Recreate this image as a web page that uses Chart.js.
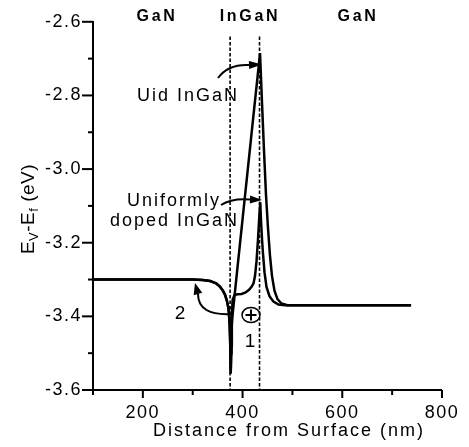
<!DOCTYPE html>
<html><head><meta charset="utf-8">
<script src="https://cdn.jsdelivr.net/npm/chart.js@4.4.1/dist/chart.umd.min.js"></script>
<style>html,body{margin:0;padding:0;background:#fff}canvas{display:block}</style>
</head><body>
<canvas id="c" width="469" height="447"></canvas>
<script>
// ---- data (nm, eV) ----
const leftX = [100, 300, 320, 335, 347, 355, 360.5, 365, 368.5, 371, 372.5, 374, 375, 376, 376.5];
const leftY = [-3.30, -3.30, -3.301, -3.304, -3.31, -3.32, -3.33, -3.342, -3.357, -3.373, -3.389, -3.42, -3.46, -3.52, -3.555];
const uidX = [377.2, 378, 380, 390, 400, 410, 420, 430, 435, 439, 443, 447, 451, 455, 459, 464, 470, 478, 490, 738];
const uidY = [-3.50, -3.43, -3.395, -3.265, -3.136, -3.007, -2.878, -2.75, -2.685, -2.82, -2.95, -3.07, -3.16, -3.235, -3.29, -3.33, -3.353, -3.365, -3.37, -3.37];
const dopedX = [377.5, 378.5, 380, 384, 390, 398, 406, 413, 418, 422, 425, 428, 431, 433.5, 435.5, 437, 439, 441, 444, 448, 454, 462, 472, 485, 738];
const dopedY = [-3.48, -3.40, -3.355, -3.342, -3.34, -3.339, -3.335, -3.328, -3.32, -3.31, -3.29, -3.25, -3.19, -3.13, -3.09, -3.14, -3.19, -3.23, -3.28, -3.32, -3.345, -3.36, -3.368, -3.37, -3.37];
const interfaceX = [375, 434];
const interfaceY = [-2.64, -3.6];
const xRange = [100, 800];
const yRange = [-3.6, -2.6];
const xMajorTicks = [200, 400, 600, 800];
const xMinorTicks = [100, 300, 500, 700];
const yMajorTicks = [-3.6, -3.4, -3.2, -3.0, -2.8, -2.6];
const yMinorTicks = [-3.5, -3.3, -3.1, -2.9, -2.7];

function pts(xs, ys) { return xs.map((x, i) => ({x: x, y: ys[i]})); }
const uidCurve = pts(leftX.concat(uidX), leftY.concat(uidY));
const dopedCurve = pts(leftX.concat(dopedX), leftY.concat(dopedY));

const FONT = '"Liberation Sans", Arial, sans-serif';

const lineDs = (data) => ({data, showLine: true, borderColor: '#000', borderWidth: 2.5, pointRadius: 0, fill: false, tension: 0});
const dashDs = (xv) => ({data: interfaceY.map(v => ({x: xv, y: v})), showLine: true, borderColor: '#000', borderWidth: 1.6, borderDash: [3.5, 2], pointRadius: 0, fill: false});

const notes = [
  {t: 'GaN', x: 157, y: 21, f: 'bold 16px ' + FONT, ls: 2.7, a: 'center'},
  {t: 'InGaN', x: 250, y: 21, f: 'bold 16px ' + FONT, ls: 2.7, a: 'center'},
  {t: 'GaN', x: 358, y: 21, f: 'bold 16px ' + FONT, ls: 2.7, a: 'center'},
  {t: 'Uid InGaN', x: 137, y: 101, f: '18px ' + FONT, ls: 2, a: 'left'},
  {t: 'Uniformly', x: 127, y: 206, f: '18px ' + FONT, ls: 2, a: 'left'},
  {t: 'doped InGaN', x: 110, y: 226, f: '18px ' + FONT, ls: 2, a: 'left'},
  {t: '2', x: 180, y: 318.5, f: '19px ' + FONT, ls: 0, a: 'center'},
  {t: '1', x: 250, y: 346.5, f: '19px ' + FONT, ls: 0, a: 'center'},
  {t: 'Distance from Surface (nm)', x: 289, y: 436, f: '18px ' + FONT, ls: 2, a: 'center'}
];

function arrow(ctx, sx, sy, cx, cy, ex, ey, tx, ty, hw) {
  ctx.beginPath(); ctx.moveTo(sx, sy); ctx.quadraticCurveTo(cx, cy, ex, ey); ctx.stroke();
  const ang = Math.atan2(ty - ey, tx - ex);
  const nx = -Math.sin(ang) * hw, ny = Math.cos(ang) * hw;
  ctx.beginPath(); ctx.moveTo(tx, ty); ctx.lineTo(ex + nx, ey + ny); ctx.lineTo(ex - nx, ey - ny); ctx.closePath(); ctx.fill();
}

const deco = {
  id: 'deco',
  beforeDraw(chart) { chart.ctx.letterSpacing = '1.5px'; },
  afterDraw(chart) {
    const ctx = chart.ctx, xs = chart.scales.x, ys = chart.scales.y, ca = chart.chartArea;
    ctx.save();
    ctx.letterSpacing = '0px';
    ctx.strokeStyle = '#000'; ctx.fillStyle = '#000'; ctx.lineWidth = 2;
    // tick marks
    const tick = (x1, y1, x2, y2) => { ctx.beginPath(); ctx.moveTo(x1, y1); ctx.lineTo(x2, y2); ctx.stroke(); };
    yMajorTicks.forEach(v => { const p = ys.getPixelForValue(v); tick(ca.left - 11, p, ca.left, p); });
    yMinorTicks.forEach(v => { const p = ys.getPixelForValue(v); tick(ca.left - 5, p, ca.left, p); });
    xMajorTicks.forEach(v => { const p = xs.getPixelForValue(v); tick(p, ca.bottom, p, ca.bottom + 8); });
    xMinorTicks.forEach(v => { const p = xs.getPixelForValue(v); tick(p, ca.bottom - 1, p, ca.bottom + 5); });
    // texts
    notes.forEach(n => {
      ctx.font = n.f; ctx.letterSpacing = n.ls + 'px'; ctx.textAlign = n.a; ctx.textBaseline = 'alphabetic';
      ctx.fillText(n.t, n.x, n.y);
    });
    // y title with subscripts
    ctx.save();
    ctx.translate(34, 209); ctx.rotate(-Math.PI / 2);
    ctx.letterSpacing = '0.5px'; ctx.textAlign = 'left';
    const big = '19px ' + FONT, small = '13px ' + FONT;
    const parts = [['E', big, 0], ['V', small, 4], ['-E', big, 0], ['f', small, 4], [' (eV)', big, 0]];
    let w = 0;
    parts.forEach(p => { ctx.font = p[1]; w += ctx.measureText(p[0]).width; });
    let cx = -w / 2;
    parts.forEach(p => { ctx.font = p[1]; ctx.fillText(p[0], cx, p[2]); cx += ctx.measureText(p[0]).width; });
    ctx.restore();
    // arrows
    ctx.lineWidth = 2;
    arrow(ctx, 218, 78, 228, 64, 249, 65, 262, 64.5, 4);
    arrow(ctx, 221, 205, 232, 198, 250, 199.5, 262, 200, 4);
    arrow(ctx, 232, 314, 198, 316, 198, 294, 195, 283, 4.5);
    // circled plus
    ctx.lineWidth = 1.5;
    ctx.beginPath(); ctx.ellipse(251, 315, 9, 7.5, 0, 0, Math.PI * 2); ctx.stroke();
    ctx.lineWidth = 2;
    tick(245.5, 315, 256.5, 315); tick(251, 309.5, 251, 320.5);
    ctx.restore();
  }
};

new Chart(document.getElementById('c'), {
  type: 'scatter',
  data: {datasets: [lineDs(uidCurve), lineDs(dopedCurve), dashDs(interfaceX[0]), dashDs(interfaceX[1])]},
  options: {
    responsive: false, animation: false, devicePixelRatio: 1,
    layout: {padding: {top: 13, right: 21, left: 0, bottom: 0}},
    plugins: {legend: {display: false}, tooltip: {enabled: false}},
    scales: {
      x: {
        type: 'linear', min: xRange[0], max: xRange[1],
        afterBuildTicks: (s) => { s.ticks = xMajorTicks.map(v => ({value: v})); },
        afterFit: (s) => { s.height = 57; },
        grid: {display: false, drawTicks: false},
        border: {display: true, color: '#000', width: 2},
        ticks: {color: '#000', font: {family: FONT, size: 18}, padding: 12, maxRotation: 0, autoSkip: false}
      },
      y: {
        type: 'linear', min: yRange[0], max: yRange[1],
        afterBuildTicks: (s) => { s.ticks = yMajorTicks.map(v => ({value: v})); },
        afterFit: (s) => { s.width = 93; },
        grid: {display: false, drawTicks: false},
        border: {display: true, color: '#000', width: 2},
        ticks: {color: '#000', font: {family: FONT, size: 18}, padding: 11, callback: (v) => v.toFixed(1)}
      }
    }
  },
  plugins: [deco]
});
</script>
</body></html>
